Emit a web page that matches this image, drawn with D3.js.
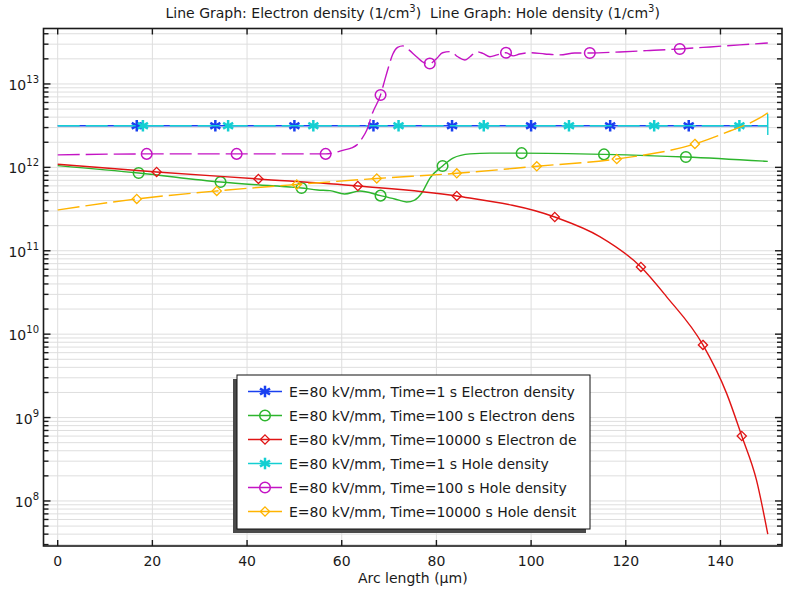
<!DOCTYPE html>
<html>
<head>
<meta charset="utf-8">
<script src="https://cdn.jsdelivr.net/npm/d3@7"></script>
<style>
  body { margin: 0; background: #fff; }
  svg { display: block; font-family: "DejaVu Sans", sans-serif; }
</style>
</head>
<body>
<svg id="chart" width="788" height="589"></svg>
<script>
// ---- axis ticks ----
const xTicks = [0, 20, 40, 60, 80, 100, 120, 140];
const yDecades = [8, 9, 10, 11, 12, 13];

// ---- Electron density, t = 1 s ----
const arcE1 = [0, 150];
const densE1 = [3.15e12, 3.15e12];
const markE1 = [16.7, 33.3, 50, 66.7, 83.3, 100, 116.7, 133.3];

// ---- Electron density, t = 100 s ----
const arcE100 = [0, 17.1, 34.4, 42.7, 49.0, 51.5, 54.9, 57.5, 60.6, 63.8, 68.2, 71.2, 73.7, 75.4, 76.9, 78.6, 81.3, 83.5, 87.1, 91.3, 98.0, 115.4, 132.7, 150];
const densE100 = [1.05e12, 8.57e11, 6.68e11, 6.15e11, 5.82e11, 5.66e11, 5.36e11, 5.26e11, 4.80e11, 5.21e11, 4.58e11, 4.18e11, 3.85e11, 4.06e11, 4.93e11, 7.40e11, 1.04e12, 1.29e12, 1.45e12, 1.48e12, 1.48e12, 1.43e12, 1.33e12, 1.18e12];
const markE100 = [17.1, 34.4, 51.5, 68.2, 81.3, 98.0, 115.4, 132.7];

// ---- Electron density, t = 10000 s ----
const arcE10k = [0, 20.9, 42.4, 63.4, 84.3, 105.0, 114.5, 123.2, 128.6, 136.3, 141.3, 144.5, 147.6, 150];
const densE10k = [1.09e12, 8.81e11, 7.26e11, 5.98e11, 4.54e11, 2.54e11, 1.48e11, 6.39e10, 2.82e10, 7.43e9, 1.95e9, 6.01e8, 1.79e8, 4.0e7];
const markE10k = [20.9, 42.4, 63.4, 84.3, 105.0, 123.2, 136.3, 144.5];

// ---- Hole density, t = 1 s ----
const arcH1 = [0, 149.97, 149.985, 150];
const densH1 = [3.15e12, 3.15e12, 4.5e12, 2.45e12];
const markH1 = [18, 36, 54, 72, 90, 108, 126, 144];

// ---- Hole density, t = 100 s ----
const arcH100 = [0, 18.8, 37.8, 56.6, 60.6, 62.1, 63.2, 64.2, 65.3, 66.5, 68.2, 69.1, 69.7, 70.8, 71.8, 72.9, 74.2, 75.8, 77.5, 78.6, 80.1, 81.3, 83.0, 84.5, 86.0, 87.1, 88.5, 89.8, 91.3, 92.8, 94.7, 96.2, 97.6, 99.7, 102.9, 106.1, 109.2, 112.4, 118.7, 125.1, 131.4, 137.8, 144.1, 150];
const densH100 = [1.41e12, 1.45e12, 1.45e12, 1.45e12, 1.62e12, 1.71e12, 1.86e12, 2.19e12, 2.81e12, 4.49e12, 7.38e12, 1.12e13, 1.47e13, 2.29e13, 2.74e13, 2.86e13, 2.56e13, 2.12e13, 1.79e13, 1.76e13, 2.03e13, 2.37e13, 2.44e13, 2.12e13, 1.94e13, 2.12e13, 2.44e13, 2.33e13, 2.12e13, 2.23e13, 2.37e13, 2.17e13, 2.29e13, 2.37e13, 2.29e13, 2.23e13, 2.35e13, 2.35e13, 2.42e13, 2.52e13, 2.63e13, 2.78e13, 2.94e13, 3.10e13];
const markH100 = [18.8, 37.8, 56.6, 68.2, 78.6, 94.7, 112.4, 131.4];

// ---- Hole density, t = 10000 s ----
const arcH10k = [0, 16.7, 33.6, 50.5, 67.4, 84.3, 101.2, 118.1, 134.6, 142.0, 148.3, 150];
const densH10k = [3.08e11, 4.18e11, 5.21e11, 6.24e11, 7.36e11, 8.49e11, 1.03e12, 1.26e12, 1.91e12, 2.73e12, 3.91e12, 4.5e12];
const markH10k = [16.7, 33.6, 50.5, 67.4, 84.3, 101.2, 118.1, 134.6];

const legendLabels = [
  "E=80 kV/mm, Time=1 s Electron density",
  "E=80 kV/mm, Time=100 s Electron dens",
  "E=80 kV/mm, Time=10000 s Electron de",
  "E=80 kV/mm, Time=1 s Hole density",
  "E=80 kV/mm, Time=100 s Hole density",
  "E=80 kV/mm, Time=10000 s Hole densit"
];

const series = [
  { xs: arcE1,   vs: densE1,   marks: markE1,   color: "#1a40f0", dash: null,   marker: "star" },
  { xs: arcE100, vs: densE100, marks: markE100, color: "#2db52d", dash: null,   marker: "circle" },
  { xs: arcE10k, vs: densE10k, marks: markE10k, color: "#e01414", dash: null,   marker: "diamond" },
  { xs: arcH1,   vs: densH1,   marks: markH1,   color: "#14cfd2", dash: "22,6", marker: "star" },
  { xs: arcH100, vs: densH100, marks: markH100, color: "#c414c4", dash: "22,6", marker: "circle" },
  { xs: arcH10k, vs: densH10k, marks: markH10k, color: "#ffb400", dash: "22,6", marker: "diamond" }
];

// ---- layout ----
const box = { left: 43.5, right: 782, top: 28.5, bottom: 546 };
const svg = d3.select("#chart");

const x = d3.scaleLinear().domain([-3, 153]).range([box.left, box.right]);
const y = d3.scaleLog().domain([Math.pow(10, 7.46), Math.pow(10, 13.665)]).range([box.bottom, box.top]);

// grid
const grid = svg.append("g").attr("stroke", "#dedede").attr("stroke-width", 1);
xTicks.forEach(t => {
  grid.append("line").attr("x1", x(t)).attr("x2", x(t)).attr("y1", box.top).attr("y2", box.bottom);
});
const yMinor = [];
const [yLo, yHi] = y.domain();
for (let d = 7; d <= 13; d++) {
  for (let k = 1; k <= 9; k++) {
    const v = k * Math.pow(10, d);
    if (v >= yLo && v <= yHi) yMinor.push({ v, major: k === 1 });
  }
}
yMinor.forEach(t => {
  grid.append("line").attr("x1", box.left).attr("x2", box.right).attr("y1", y(t.v)).attr("y2", y(t.v));
});

// curves
svg.append("clipPath").attr("id", "plotClip").append("rect")
  .attr("x", box.left).attr("y", box.top)
  .attr("width", box.right - box.left).attr("height", box.bottom - box.top);
const plotG = svg.append("g").attr("clip-path", "url(#plotClip)");

const line = d3.line().x(d => x(d[0])).y(d => y(d[1])).curve(d3.curveMonotoneX);

function drawMarker(g, kind, cx, cy, color) {
  if (kind === "star") {
    const r = 5.8;
    const m = g.append("g").attr("stroke", color).attr("stroke-width", 2.5).attr("stroke-linecap", "butt");
    [90, 30, 150].forEach(a => {
      const rad = a * Math.PI / 180;
      m.append("line")
        .attr("x1", cx - r * Math.cos(rad)).attr("y1", cy - r * Math.sin(rad))
        .attr("x2", cx + r * Math.cos(rad)).attr("y2", cy + r * Math.sin(rad));
    });
  } else if (kind === "circle") {
    g.append("circle").attr("cx", cx).attr("cy", cy).attr("r", 5.3)
      .attr("fill", "none").attr("stroke", color).attr("stroke-width", 1.5);
  } else {
    const r = 4.6;
    g.append("path")
      .attr("d", `M${cx},${cy - r}L${cx + r},${cy}L${cx},${cy + r}L${cx - r},${cy}Z`)
      .attr("fill", "none").attr("stroke", color).attr("stroke-width", 1.3);
  }
}

// locate a point on a rendered curve at a given data x
function pointAtX(pathNode, px) {
  let lo = 0, hi = pathNode.getTotalLength();
  for (let i = 0; i < 40; i++) {
    const mid = (lo + hi) / 2;
    if (pathNode.getPointAtLength(mid).x < px) lo = mid; else hi = mid;
  }
  return pathNode.getPointAtLength((lo + hi) / 2);
}

series.forEach(s => {
  const pts = s.xs.map((v, i) => [v, s.vs[i]]);
  const p = plotG.append("path")
    .attr("d", line(pts))
    .attr("fill", "none")
    .attr("stroke", s.color)
    .attr("stroke-width", 1.4)
    .attr("stroke-dasharray", s.dash);
  const node = p.node();
  s.marks.forEach(mx => {
    const pt = pointAtX(node, x(mx));
    drawMarker(plotG, s.marker, pt.x, pt.y, s.color);
  });
});

// frame and ticks
const axisG = svg.append("g").attr("stroke", "#1a1a1a");
axisG.append("rect")
  .attr("x", box.left).attr("y", box.top)
  .attr("width", box.right - box.left).attr("height", box.bottom - box.top)
  .attr("fill", "none").attr("stroke-width", 1.6);
xTicks.forEach(t => {
  axisG.append("line").attr("x1", x(t)).attr("x2", x(t)).attr("y1", box.bottom).attr("y2", box.bottom - 6).attr("stroke-width", 1.4);
  axisG.append("line").attr("x1", x(t)).attr("x2", x(t)).attr("y1", box.top).attr("y2", box.top + 6).attr("stroke-width", 1.4);
});
yMinor.forEach(t => {
  const len = t.major ? 7 : 5;
  axisG.append("line").attr("x1", box.left).attr("x2", box.left + len).attr("y1", y(t.v)).attr("y2", y(t.v)).attr("stroke-width", 1.4);
  axisG.append("line").attr("x1", box.right).attr("x2", box.right - len).attr("y1", y(t.v)).attr("y2", y(t.v)).attr("stroke-width", 1.4);
});

// tick labels
const txt = svg.append("g").attr("fill", "#1a1a1a").attr("font-size", 14);
xTicks.forEach(t => {
  txt.append("text").attr("x", x(t)).attr("y", 561).attr("text-anchor", "middle")
    .attr("dominant-baseline", "central").text(t);
});
yDecades.forEach(d => {
  const t = txt.append("text").attr("x", 39).attr("y", y(Math.pow(10, d)) + 1)
    .attr("text-anchor", "end").attr("dominant-baseline", "central");
  t.append("tspan").text("10");
  t.append("tspan").attr("dy", -6).attr("font-size", 10).text(d);
});

// axis title
txt.append("text").attr("x", (box.left + box.right) / 2).attr("y", 578)
  .attr("text-anchor", "middle").attr("dominant-baseline", "central").text("Arc length (\u00b5m)");

// chart title
const title = txt.append("text").attr("x", (box.left + box.right) / 2).attr("y", 13)
  .attr("text-anchor", "middle").attr("dominant-baseline", "central");
title.append("tspan").text("Line Graph: Electron density (1/cm");
title.append("tspan").attr("dy", -5).attr("font-size", 10).text("3");
title.append("tspan").attr("dy", 5).text(")\u00a0\u00a0Line Graph: Hole density (1/cm");
title.append("tspan").attr("dy", -5).attr("font-size", 10).text("3");
title.append("tspan").attr("dy", 5).text(")");

// legend
const lg = svg.append("g");
lg.append("rect").attr("x", 233).attr("y", 379).attr("width", 353).attr("height", 154).attr("fill", "#4a4a4a");
lg.append("rect").attr("x", 237).attr("y", 375).attr("width", 353).attr("height", 154)
  .attr("fill", "#fff").attr("stroke", "#111").attr("stroke-width", 1);
series.forEach((s, i) => {
  const ly = 391.5 + i * 24;
  lg.append("line").attr("x1", 248).attr("x2", 282).attr("y1", ly).attr("y2", ly)
    .attr("stroke", s.color).attr("stroke-width", 1.4);
  drawMarker(lg, s.marker, 265, ly, s.color);
  lg.append("text").attr("x", 289).attr("y", ly + 0.5).attr("font-size", 14)
    .attr("fill", "#1a1a1a").attr("dominant-baseline", "central").text(legendLabels[i]);
});
</script>
</body>
</html>
